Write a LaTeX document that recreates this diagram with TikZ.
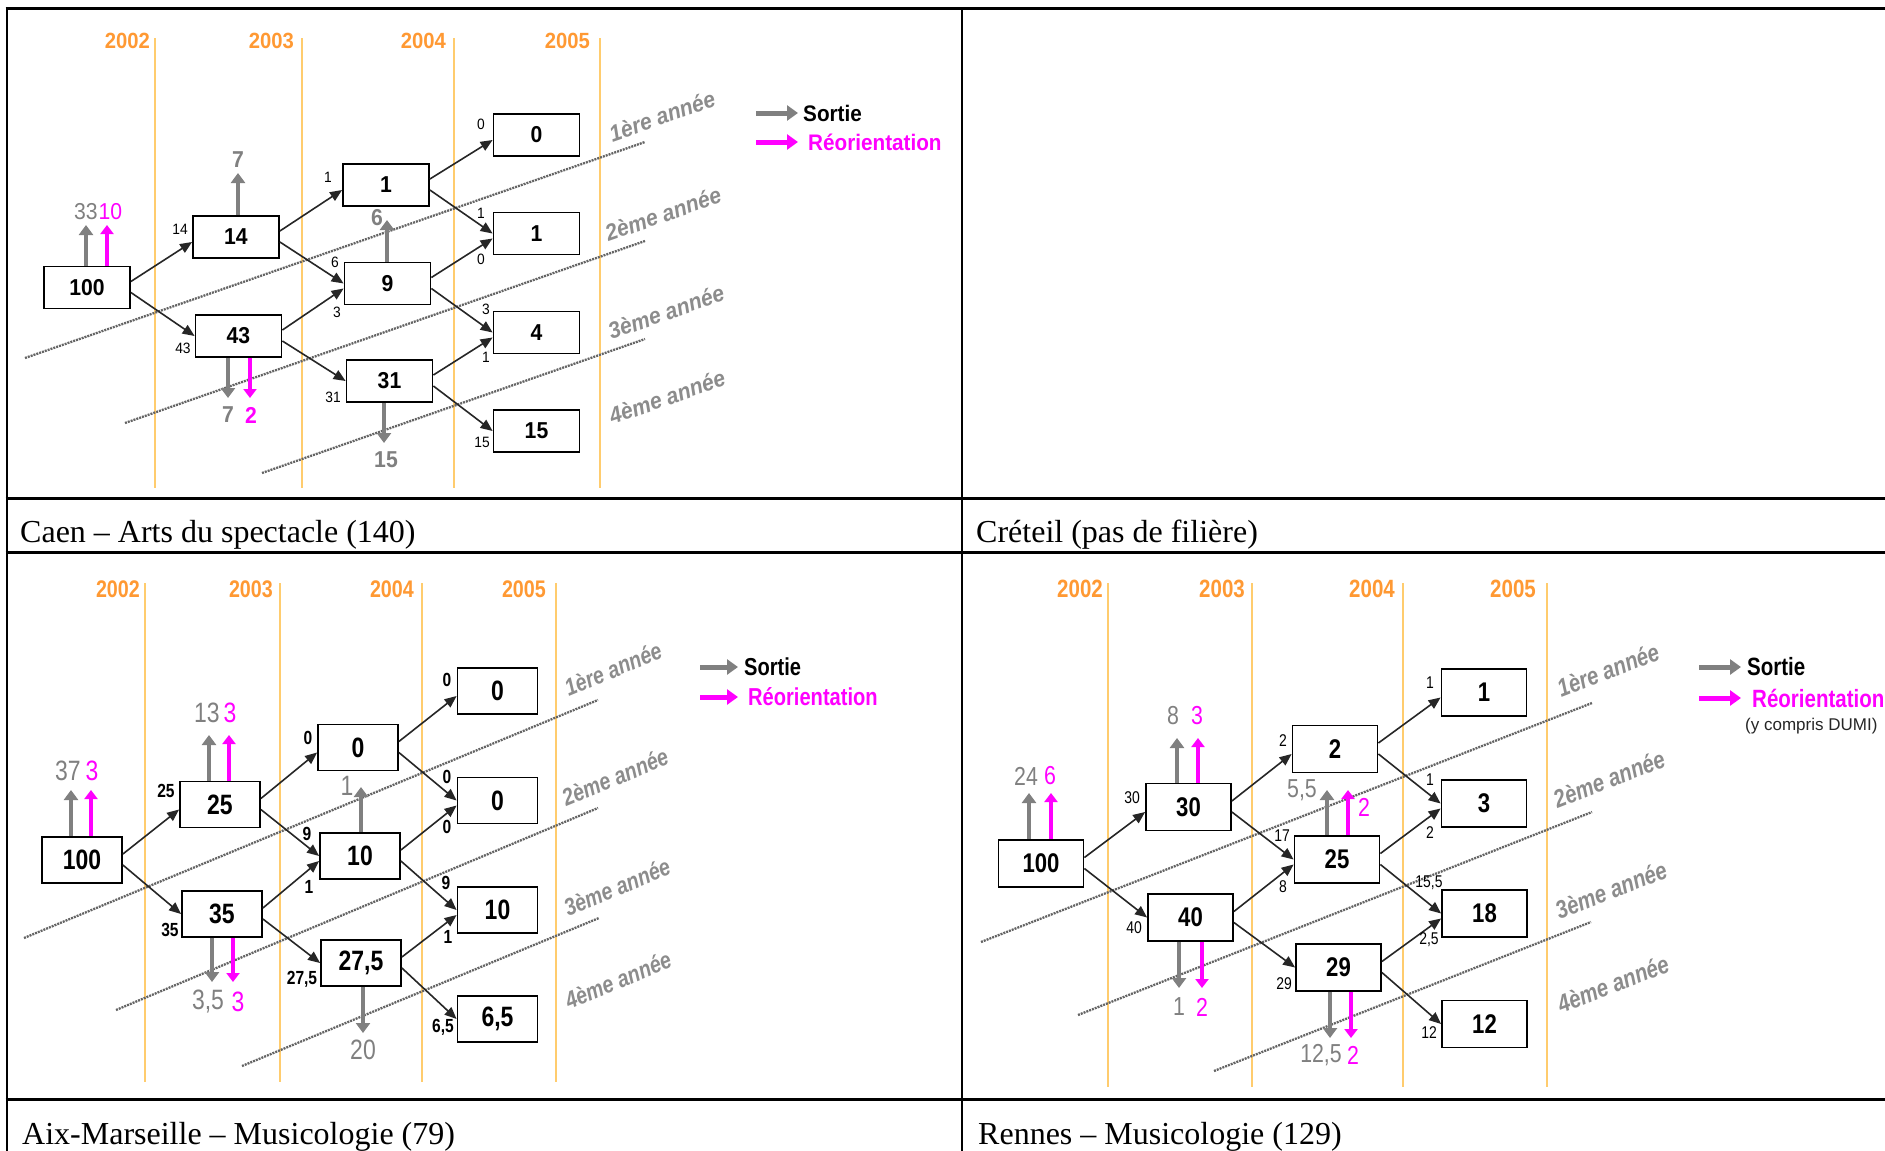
\documentclass[tikz,border=0pt]{standalone}
\usepackage{fontspec}
\setmainfont{Liberation Serif}
\newfontfamily\cfont[FakeStretch=0.92]{Liberation Sans}
\newfontfamily\afont[FakeStretch=0.82]{Liberation Sans}
\newfontfamily\plainsans{Liberation Sans}
\usetikzlibrary{arrows.meta}
\definecolor{yearc}{RGB}{255,153,51}
\definecolor{linec}{RGB}{255,204,110}
\definecolor{sgray}{RGB}{128,128,128}
\definecolor{mag}{RGB}{255,0,255}
\definecolor{agray}{RGB}{140,140,140}
\definecolor{dgray}{RGB}{100,100,100}
\newcommand\myfs[1]{\fontsize{#1pt}{#1pt}\selectfont}
\newcommand\upconn[2]{\draw[conn] ([yshift=6pt]#1.east) -- ([yshift=-5pt]#2.west);}
\newcommand\dnconn[2]{\draw[conn] ([yshift=-5pt]#1.east) -- (#2.west);}
\newcommand\outarr[5]{\coordinate (#1) at (#4,#5); \draw[#2] (#3 -| #1) -- (#1);}
\tikzset{
 nbox/.style={draw=black, line width=1.8pt, fill=white, inner sep=0pt, minimum width=\bw, minimum height=\bh, font=\pf\bfseries\myfs{\bsz}},
 elab/.style={inner sep=0pt, font=\pf\elw\myfs{\esz}},
 gval/.style={inner sep=0pt, text=sgray, font=\pf\myfs{\vsz}},
 gvalb/.style={gval, font=\pf\bfseries\myfs{\vsz}},
 mval/.style={gval, text=mag},
 year/.style={inner sep=0pt, anchor=base east, text=yearc, font=\pf\bfseries\myfs{\ysz}},
 yline/.style={draw=linec, line width=1.3pt},
 annee/.style={inner sep=0pt, text=agray, rotate=\ang, font=\pf\bfseries\itshape\myfs{\asz}},
 track/.style={draw=dgray, line width=2.3pt, dash pattern=on 2pt off 1pt},
 conn/.style={draw=black!85, line width=1.6pt, -{Triangle[length=12pt,width=10pt]}},
 sortie/.style={draw=sgray, line width=4.5pt, -{Triangle[length=10pt,width=14pt]}},
 reor/.style={draw=mag, line width=3.2pt, -{Triangle[length=9pt,width=13pt]}},
 lsort/.style={draw=sgray, line width=5pt, -{Triangle[length=11pt,width=15pt]}},
 lreor/.style={draw=mag, line width=5pt, -{Triangle[length=11pt,width=15pt]}},
 legt/.style={inner sep=0pt, anchor=west, font=\pf\bfseries\myfs{\lsz}},
 captext/.style={inner sep=0pt, anchor=base west, font=\myfs{32}},
 hrule/.style={draw=black, line width=3pt},
 vrule/.style={draw=black, line width=2pt},
}
\begin{document}
\begin{tikzpicture}[x=1pt,y=-1pt]
\useasboundingbox (0,0) rectangle (1885,1151);
\fill[white] (0,0) rectangle (1885,1151);

% ---------------- table rules
\draw[hrule] (5.5,8) -- (1885,8);
\draw[hrule] (5.5,498) -- (1885,498);
\draw[hrule] (5.5,552) -- (1885,552);
\draw[hrule] (5.5,1099) -- (1885,1099);
\draw[vrule] (7,7) -- (7,1151);
\draw[vrule] (962,7) -- (962,1151);

% ---------------- captions
\node[captext] (cap1) at (20,542) {Caen – Arts du spectacle (140)};
\node[captext] (cap2) at (976,542) {Créteil (pas de filière)};
\node[captext] (cap3) at (22,1144) {Aix-Marseille – Musicologie (79)};
\node[captext] (cap4) at (978,1144) {Rennes – Musicologie (129)};

% ================= CAEN
\begin{scope}
\def\pf{\cfont}\def\bw{86pt}\def\bh{42pt}\def\bsz{23}\def\esz{15}\def\elw{\mdseries}
\def\vsz{23}\def\ysz{22}\def\ang{19.3}\def\asz{23}\def\lsz{22.5}
\foreach \lx/\tx/\yr in {155/150/2002,302/294/2003,454/446/2004,600/590/2005}{
  \draw[yline] (\lx,38) -- (\lx,488);
  \node[year] (cy\yr) at (\tx,48) {\yr};}
\draw[track] (25,358) -- (645,142);
\draw[track] (125,423) -- (645,241);
\draw[track] (262,473) -- (645,339);
\node[annee] (ca1) at (662,116) {1ère année};
\node[annee] (ca2) at (663,214) {2ème année};
\node[annee] (ca3) at (666,312) {3ème année};
\node[annee] (ca4) at (667,397) {4ème année};
\node[nbox] (c100) at (87,287.5) {100};
\node[nbox] (c14) at (236,237) {14};
\node[nbox] (c43) at (238.5,336) {43};
\node[nbox] (c1) at (386,185) {1};
\node[nbox] (c9) at (387.5,283.5) {9};
\node[nbox] (c31) at (389.5,381) {31};
\node[nbox] (c0) at (536.5,135) {0};
\node[nbox] (c1b) at (536.5,233.5) {1};
\node[nbox] (c4) at (536.5,332.5) {4};
\node[nbox] (c15) at (536.5,431) {15};
\upconn{c100}{c14}\dnconn{c100}{c43}
\upconn{c14}{c1}\dnconn{c14}{c9}
\upconn{c43}{c9}\dnconn{c43}{c31}
\upconn{c1}{c0}\dnconn{c1}{c1b}
\upconn{c9}{c1b}\dnconn{c9}{c4}
\upconn{c31}{c4}\dnconn{c31}{c15}
\outarr{cs1}{sortie}{c100.north}{86}{225}
\outarr{cr1}{reor}{c100.north}{107}{225}
\outarr{cs2}{sortie}{c14.north}{238}{173}
\outarr{cs3}{sortie}{c9.north}{387}{220}
\outarr{cs4}{sortie}{c43.south}{228}{398}
\outarr{cr4}{reor}{c43.south}{250}{398}
\outarr{cs5}{sortie}{c31.south}{384}{443}
\node[gval] (cv1) at (86,212) {33};
\node[mval] (cv2) at (110.5,212) {10};
\node[gvalb] (cv3) at (238,160) {7};
\node[gvalb] (cv4) at (377,218) {6};
\node[gvalb] (cv5) at (228,415) {7};
\node[mval, font=\pf\bfseries\myfs{23}] (cv6) at (251,415) {2};
\node[gvalb] (cv7) at (386,460) {15};
\node[elab] (ce1) at (180,229) {14};
\node[elab] (ce2) at (183,348) {43};
\node[elab] (ce3) at (328,177) {1};
\node[elab] (ce4) at (335,262) {6};
\node[elab] (ce5) at (337,312) {3};
\node[elab] (ce6) at (333,397) {31};
\node[elab] (ce7) at (481,124) {0};
\node[elab] (ce8) at (481,213) {1};
\node[elab] (ce9) at (481,259) {0};
\node[elab] (ce10) at (486,309) {3};
\node[elab] (ce11) at (486,357) {1};
\node[elab] (ce12) at (482,442) {15};
\node[legt] (cls) at (803,113) {Sortie};
\draw[lsort] ([xshift=-47pt]cls.west) -- ([xshift=-5pt]cls.west);
\node[legt, text=mag] (clr) at (808,142) {Réorientation};
\draw[lreor] ([xshift=-52pt]clr.west) -- ([xshift=-10pt]clr.west);
\end{scope}

% ================= AIX-MARSEILLE
\begin{scope}
\def\pf{\afont}\def\bw{80pt}\def\bh{46pt}\def\bsz{28}\def\esz{19}\def\elw{\bfseries}
\def\vsz{28}\def\ysz{24}\def\ang{22.5}\def\asz{24}\def\lsz{24.5}
\foreach \lx/\tx/\yr in {145/140/2002,280/273/2003,422/414/2004,556/546/2005}{
  \draw[yline] (\lx,583) -- (\lx,1082);
  \node[year] (ay\yr) at (\tx,597) {\yr};}
\draw[track] (24,938) -- (598,700);
\draw[track] (116,1010) -- (598,808);
\draw[track] (242,1066) -- (599,918);
\node[annee] (aa1) at (613,669) {1ère année};
\node[annee] (aa2) at (615,777) {2ème année};
\node[annee] (aa3) at (617,887) {3ème année};
\node[annee] (aa4) at (618,980) {4ème année};
\node[nbox] (a100) at (82,860) {100};
\node[nbox] (a25) at (220,804.5) {25};
\node[nbox] (a35) at (222,914) {35};
\node[nbox] (a0) at (358,747.5) {0};
\node[nbox] (a10) at (360,856) {10};
\node[nbox] (a275) at (361,963) {27,5};
\node[nbox] (a0t) at (497.5,691) {0};
\node[nbox] (a0b) at (497.5,800.5) {0};
\node[nbox] (a10r) at (497.5,910) {10};
\node[nbox] (a65) at (497.5,1019) {6,5};
\upconn{a100}{a25}\dnconn{a100}{a35}
\upconn{a25}{a0}\dnconn{a25}{a10}
\upconn{a35}{a10}\dnconn{a35}{a275}
\upconn{a0}{a0t}\dnconn{a0}{a0b}
\upconn{a10}{a0b}\dnconn{a10}{a10r}
\upconn{a275}{a10r}\dnconn{a275}{a65}
\outarr{as1}{sortie}{a100.north}{71}{790}
\outarr{ar1}{reor}{a100.north}{91}{790}
\outarr{as2}{sortie}{a25.north}{209}{735}
\outarr{ar2}{reor}{a25.north}{229}{735}
\outarr{as3}{sortie}{a10.north}{361}{787}
\outarr{as4}{sortie}{a35.south}{212}{982}
\outarr{ar4}{reor}{a35.south}{233}{982}
\outarr{as5}{sortie}{a275.south}{363}{1033}
\node[gval] (av1) at (68,771) {37};
\node[mval] (av2) at (92,771) {3};
\node[gval] (av3) at (207,713) {13};
\node[mval] (av4) at (230,713) {3};
\node[gval] (av5) at (347,786) {1};
\node[gval] (av6) at (208,1002) {3,5};
\node[mval] (av7) at (238,1002) {3};
\node[gval] (av8) at (363,1050) {20};
\node[elab] (ae1) at (166,791) {25};
\node[elab] (ae2) at (170,930) {35};
\node[elab] (ae3) at (308,738) {0};
\node[elab] (ae4) at (307,834) {9};
\node[elab] (ae5) at (309,887) {1};
\node[elab] (ae6) at (302,979) {27,5};
\node[elab] (ae7) at (447,680) {0};
\node[elab] (ae8) at (447,777) {0};
\node[elab] (ae9) at (447,827) {0};
\node[elab] (ae10) at (446,883) {9};
\node[elab] (ae11) at (448,937) {1};
\node[elab] (ae12) at (443,1027) {6,5};
\node[legt] (als) at (744,667) {Sortie};
\draw[lsort] ([xshift=-44pt]als.west) -- ([xshift=-6pt]als.west);
\node[legt, text=mag] (alr) at (748,697) {Réorientation};
\draw[lreor] ([xshift=-48pt]alr.west) -- ([xshift=-10pt]alr.west);
\end{scope}

% ================= RENNES
\begin{scope}
\def\pf{\afont}\def\bw{85pt}\def\bh{47pt}\def\bsz{27}\def\esz{17}\def\elw{\mdseries}
\def\vsz{26}\def\ysz{25}\def\ang{21.4}\def\asz{25}\def\lsz{25}
\foreach \lx/\tx/\yr in {1108/1103/2002,1252/1245/2003,1403/1395/2004,1547/1536/2005}{
  \draw[yline] (\lx,583) -- (\lx,1087);
  \node[year] (ry\yr) at (\tx,597) {\yr};}
\draw[track] (981,942) -- (1592,703);
\draw[track] (1078,1015) -- (1592,812);
\draw[track] (1214,1071) -- (1591,922);
\node[annee] (ra1) at (1608,670) {1ère année};
\node[annee] (ra2) at (1609,779) {2ème année};
\node[annee] (ra3) at (1611,890) {3ème année};
\node[annee] (ra4) at (1613,984) {4ème année};
\node[nbox] (r100) at (1041,863.5) {100};
\node[nbox] (r30) at (1188.5,807) {30};
\node[nbox] (r40) at (1190.5,917.5) {40};
\node[nbox] (r2) at (1335,749) {2};
\node[nbox] (r25) at (1337,859.5) {25};
\node[nbox] (r29) at (1338.5,967.5) {29};
\node[nbox] (r1) at (1484,692.5) {1};
\node[nbox] (r3) at (1484,803.5) {3};
\node[nbox] (r18) at (1484.5,913.5) {18};
\node[nbox] (r12) at (1484.5,1024) {12};
\upconn{r100}{r30}\dnconn{r100}{r40}
\upconn{r30}{r2}\dnconn{r30}{r25}
\upconn{r40}{r25}\dnconn{r40}{r29}
\upconn{r2}{r1}\dnconn{r2}{r3}
\upconn{r25}{r3}\dnconn{r25}{r18}
\upconn{r29}{r18}\dnconn{r29}{r12}
\outarr{rs1}{sortie}{r100.north}{1029}{793}
\outarr{rr1}{reor}{r100.north}{1051}{793}
\outarr{rs2}{sortie}{r30.north}{1177}{738}
\outarr{rr2}{reor}{r30.north}{1198}{738}
\outarr{rs3}{sortie}{r25.north}{1327}{790}
\outarr{rr3}{reor}{r25.north}{1348}{790}
\outarr{rs4}{sortie}{r40.south}{1179}{988}
\outarr{rr4}{reor}{r40.south}{1202}{988}
\outarr{rs5}{sortie}{r29.south}{1330}{1038}
\outarr{rr5}{reor}{r29.south}{1351}{1038}
\node[gval] (rv1) at (1026,776) {24};
\node[mval] (rv2) at (1050,776) {6};
\node[gval] (rv3) at (1173,716) {8};
\node[mval] (rv4) at (1197,716) {3};
\node[gval] (rv5) at (1302,790) {5,5};
\node[mval] (rv6) at (1364,807) {2};
\node[gval] (rv7) at (1179,1007) {1};
\node[mval] (rv8) at (1202,1007) {2};
\node[gval] (rv9) at (1321,1055) {12,5};
\node[mval] (rv10) at (1353,1055) {2};
\node[elab] (re1) at (1132,798) {30};
\node[elab] (re2) at (1134,928) {40};
\node[elab] (re3) at (1283,741) {2};
\node[elab] (re4) at (1282,836) {17};
\node[elab] (re5) at (1283,887) {8};
\node[elab] (re6) at (1284,984) {29};
\node[elab] (re7) at (1430,683) {1};
\node[elab] (re8) at (1430,780) {1};
\node[elab] (re9) at (1430,833) {2};
\node[elab] (re10) at (1429,883) {15,5};
\node[elab] (re11) at (1429,940) {2,5};
\node[elab] (re12) at (1429,1033) {12};
\node[legt] (rls) at (1747,667) {Sortie};
\draw[lsort] ([xshift=-48pt]rls.west) -- ([xshift=-6pt]rls.west);
\node[legt, text=mag] (rlr) at (1752,698) {Réorientation};
\draw[lreor] ([xshift=-53pt]rlr.west) -- ([xshift=-11pt]rlr.west);
\node[inner sep=0pt, anchor=west, text=black!85, font=\plainsans\myfs{17}] (rld) at (1745,726) {(y compris DUMI)};
\end{scope}
\end{tikzpicture}
\end{document}
